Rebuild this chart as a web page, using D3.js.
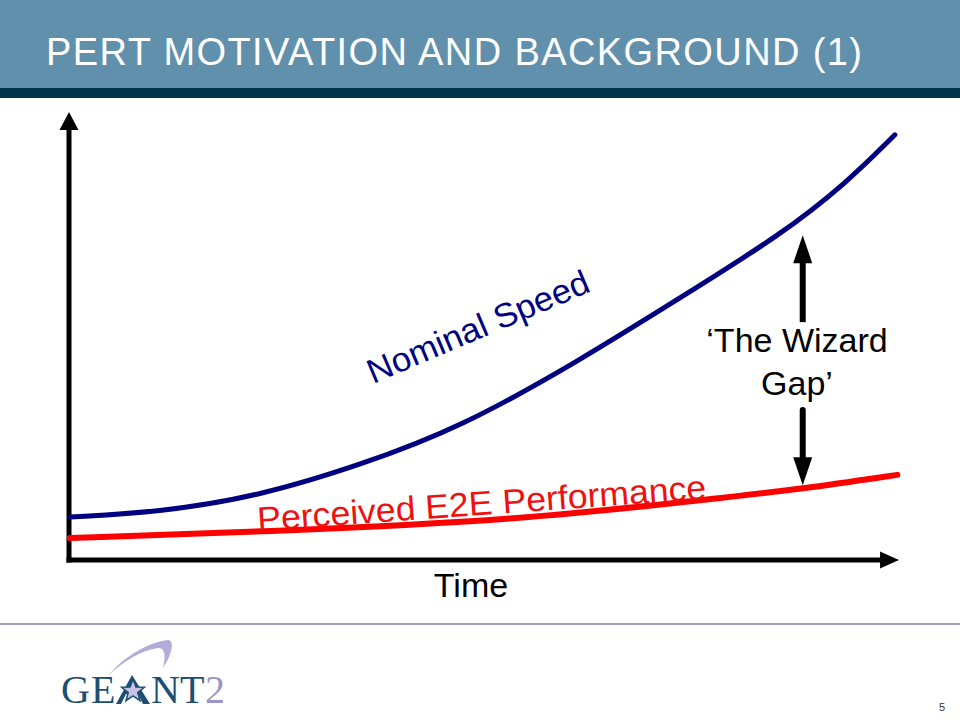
<!DOCTYPE html>
<html>
<head>
<meta charset="utf-8">
<script src="https://cdn.jsdelivr.net/npm/d3@7"></script>
<style>
  body { margin: 0; background: #fff; }
  svg { display: block; font-family: "Liberation Sans", Arial, sans-serif; }
</style>
</head>
<body>
<div id="chart"></div>
<script>
// curve data (time 0..100, speed 0..100)
const timeNominal = [0.1, 11.0, 23.0, 35.1, 47.1, 61.6, 73.6, 85.7, 93.7, 99.5];
const nominalSpeed = [9.6, 10.7, 14.3, 21.2, 29.5, 44.6, 58.5, 72.5, 84.2, 94.9];
const timePerceived = [0.1, 23.0, 54.3, 78.4, 88.1, 99.8];
const perceivedSpeed = [4.9, 6.3, 8.9, 13.8, 15.8, 19.0];

// wizard gap arrows
const gapTime = 88.4;
const gapUpper = [53.1, 72.5];
const gapLower = [33.5, 16.7];

const titleText = "PERT MOTIVATION AND BACKGROUND (1)";
const xLabel = "Time";
const gapLabel = ["\u2018The Wizard", "Gap\u2019"];

const width = 960, height = 720;

const svg = d3.select("#chart").append("svg")
    .attr("width", width)
    .attr("height", height);

// header
svg.append("rect").attr("x", 0).attr("y", 0).attr("width", width).attr("height", 88).attr("fill", "#6190ac");
svg.append("rect").attr("x", 0).attr("y", 88).attr("width", width).attr("height", 10).attr("fill", "#00344a");
svg.append("text")
    .attr("x", 46).attr("y", 65)
    .attr("font-size", 38)
    .attr("fill", "#fff")
    .attr("textLength", 816)
    .attr("lengthAdjust", "spacing")
    .text(titleText);

const x = d3.scaleLinear().domain([0, 100]).range([69, 899]);
const y = d3.scaleLinear().domain([0, 100]).range([560, 112]);

// axes with arrowheads
const g = svg.append("g");
g.append("line")
    .attr("x1", x(0) - 2.5).attr("x2", x(100) - 18)
    .attr("y1", y(0)).attr("y2", y(0))
    .attr("stroke", "#000").attr("stroke-width", 5);
g.append("line")
    .attr("x1", x(0)).attr("x2", x(0))
    .attr("y1", y(0) + 2.5).attr("y2", y(100) + 17)
    .attr("stroke", "#000").attr("stroke-width", 5);
g.append("path")
    .attr("d", `M${x(100)},${y(0)} L${x(100) - 19},${y(0) - 8.5} L${x(100) - 19},${y(0) + 8.5} Z`)
    .attr("fill", "#000");
g.append("path")
    .attr("d", `M${x(0)},${y(100)} L${x(0) - 9.5},${y(100) + 18} L${x(0) + 9.5},${y(100) + 18} Z`)
    .attr("fill", "#000");

const line = d3.line()
    .x(d => x(d[0]))
    .y(d => y(d[1]))
    .curve(d3.curveBasis);

g.append("path")
    .datum(d3.zip(timePerceived, perceivedSpeed))
    .attr("d", line)
    .attr("fill", "none")
    .attr("stroke", "#ff0000")
    .attr("stroke-width", 6)
    .attr("stroke-linecap", "round");

g.append("path")
    .datum(d3.zip(timeNominal, nominalSpeed))
    .attr("d", line)
    .attr("fill", "none")
    .attr("stroke", "#000080")
    .attr("stroke-width", 5)
    .attr("stroke-linecap", "round");

// curve labels
svg.append("text")
    .attr("transform", "translate(373,384) rotate(-23)")
    .attr("font-size", 34)
    .attr("fill", "#000080")
    .attr("textLength", 238)
    .attr("lengthAdjust", "spacingAndGlyphs")
    .text("Nominal Speed");

svg.append("text")
    .attr("transform", "translate(258,531) rotate(-4.1)")
    .attr("font-size", 34)
    .attr("fill", "#ee1111")
    .attr("textLength", 450)
    .attr("lengthAdjust", "spacingAndGlyphs")
    .text("Perceived E2E Performance");

// x label
svg.append("text")
    .attr("x", (x(0) + x(100)) / 2 - 13).attr("y", 597)
    .attr("font-size", 34)
    .attr("text-anchor", "middle")
    .text(xLabel);

// wizard gap
const gx = x(gapTime);
g.append("line")
    .attr("x1", gx).attr("x2", gx)
    .attr("y1", y(gapUpper[0])).attr("y2", y(gapUpper[1]) + 26)
    .attr("stroke", "#000").attr("stroke-width", 6);
g.append("path")
    .attr("d", `M${gx},${y(gapUpper[1])} L${gx - 9.5},${y(gapUpper[1]) + 28} L${gx + 9.5},${y(gapUpper[1]) + 28} Z`)
    .attr("fill", "#000");
g.append("line")
    .attr("x1", gx).attr("x2", gx)
    .attr("y1", y(gapLower[0])).attr("y2", y(gapLower[1]) - 26)
    .attr("stroke", "#000").attr("stroke-width", 6)
    .attr("stroke-linecap", "round");
g.append("path")
    .attr("d", `M${gx},${y(gapLower[1])} L${gx - 9.5},${y(gapLower[1]) - 28} L${gx + 9.5},${y(gapLower[1]) - 28} Z`)
    .attr("fill", "#000");

svg.selectAll(".gap").data(gapLabel).enter().append("text")
    .attr("class", "gap")
    .attr("x", 797)
    .attr("y", (d, i) => 352 + i * 43)
    .attr("font-size", 34)
    .attr("text-anchor", "middle")
    .text(d => d);

// footer
svg.append("line")
    .attr("x1", 0).attr("x2", width).attr("y1", 624).attr("y2", 624)
    .attr("stroke", "#a09cc4").attr("stroke-width", 2);

const logo = svg.append("g").attr("font-family", "'Liberation Serif', 'DejaVu Serif', serif");
logo.append("path")
    .attr("d", "M108,676 C125,655 150,642 168,640 C175,640 172,655 163,668 C166,655 165,648 158,648 C142,650 122,662 108,676 Z")
    .attr("fill", "#b4acd8");
logo.append("text").attr("x", 61).attr("y", 703).attr("font-size", 40).attr("fill", "#1d4f72")
    .attr("letter-spacing", 1).text("GE");
logo.append("text").attr("x", 151).attr("y", 703).attr("font-size", 40).attr("fill", "#1d4f72")
    .text("NT");
logo.append("text").attr("x", 205).attr("y", 703).attr("font-size", 40).attr("fill", "#9c94c8").text("2");
// star-A
logo.append("path")
    .attr("d", "M132,675 L116,704 L121,704 L126,694 L138,694 L143,704 L150,704 Z")
    .attr("fill", "#1d4f72");
const star = d3.range(10).map(i => {
    const r = i % 2 ? 5 : 12;
    const a = -Math.PI / 2 + i * Math.PI / 5;
    return [133 + r * Math.cos(a), 691 + r * Math.sin(a)];
});
logo.append("path")
    .attr("d", "M" + star.join("L") + "Z")
    .attr("fill", "#c8c2e6")
    .attr("stroke", "#1d4f72")
    .attr("stroke-width", 1.5);

svg.append("text")
    .attr("x", 939).attr("y", 711)
    .attr("font-size", 11)
    .attr("fill", "#333")
    .text("5");
</script>
</body>
</html>
